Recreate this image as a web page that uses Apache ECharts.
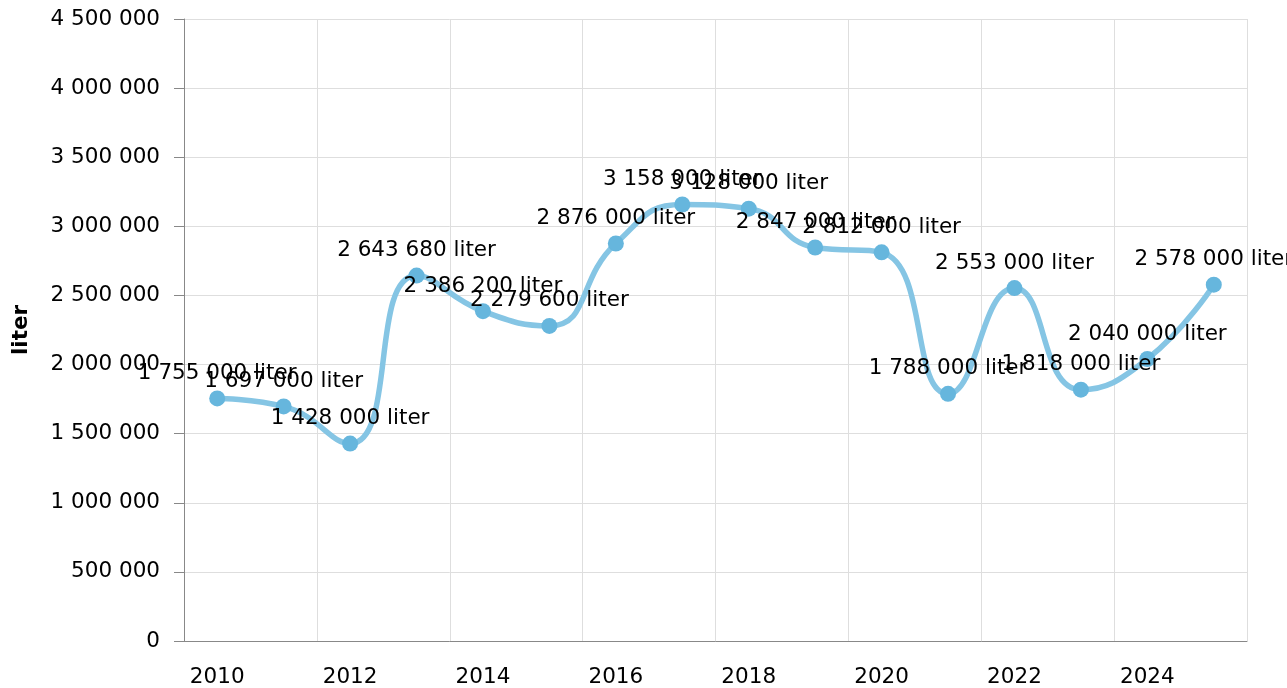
<!DOCTYPE html>
<html>
<head>
<meta charset="utf-8">
<script src="https://cdn.jsdelivr.net/npm/echarts@6/dist/echarts.min.js"></script>
<style>
  html, body { margin: 0; padding: 0; background: #fff; }
  #main { width: 1287px; height: 688px; }
</style>
</head>
<body>
<div id="main"></div>
<script>
var years = ['2010', '2011', '2012', '2013', '2014', '2015', '2016', '2017',
             '2018', '2019', '2020', '2021', '2022', '2023', '2024', '2025'];
var volumes = [1755000, 1697000, 1428000, 2643680, 2386200, 2279600, 2876000, 3158000,
               3128000, 2847000, 2812000, 1788000, 2553000, 1818000, 2040000, 2578000];
var unit = 'liter';

// tusenskille med mellomrom
function fmt(v) {
    return String(v).replace(/\B(?=(\d{3})+(?!\d))/g, ' ');
}

var myChart = echarts.init(document.getElementById('main'));

var font = 'DejaVu Sans';
var fs = 21.5;

var option = {
    animation: false,
    textStyle: { fontFamily: font },
    grid: {
        left: 184,
        right: 40,
        top: 19,
        bottom: 46
    },
    xAxis: {
        type: 'category',
        data: years,
        boundaryGap: true,
        axisLine: { lineStyle: { color: '#888', width: 1 } },
        axisTick: {
            alignWithLabel: true,
            interval: 1,
            length: 8,
            lineStyle: { color: '#888' }
        },
        axisLabel: {
            interval: 1,
            margin: 25,
            fontSize: fs,
            color: '#000',
            fontFamily: font
        },
        splitLine: {
            show: true,
            interval: 1,
            lineStyle: { color: '#dedede' }
        }
    },
    yAxis: {
        type: 'value',
        min: 0,
        max: 4500000,
        interval: 500000,
        name: unit,
        nameLocation: 'middle',
        nameGap: 152,
        nameTextStyle: {
            fontSize: fs,
            fontWeight: 'bold',
            color: '#000',
            fontFamily: font
        },
        axisLine: { show: true, lineStyle: { color: '#888', width: 1 } },
        axisTick: { show: true, length: 10, lineStyle: { color: '#888' } },
        axisLabel: {
            margin: 24,
            fontSize: fs,
            color: '#000',
            fontFamily: font,
            formatter: function (v) { return fmt(v); }
        },
        splitLine: { lineStyle: { color: '#dedede' } }
    },
    series: [
        {
            name: unit,
            type: 'line',
            data: volumes,
            smooth: 0.5,
            symbol: 'circle',
            symbolSize: 16,
            lineStyle: { color: '#85c5e4', width: 5.5 },
            itemStyle: { color: '#66b6dd' },
            label: {
                show: true,
                position: 'top',
                distance: 6,
                fontSize: fs,
                color: '#000',
                fontFamily: font,
                formatter: function (p) { return fmt(p.value) + ' ' + unit; }
            },
            labelLayout: { hideOverlap: false }
        }
    ]
};

myChart.setOption(option);
</script>
</body>
</html>
